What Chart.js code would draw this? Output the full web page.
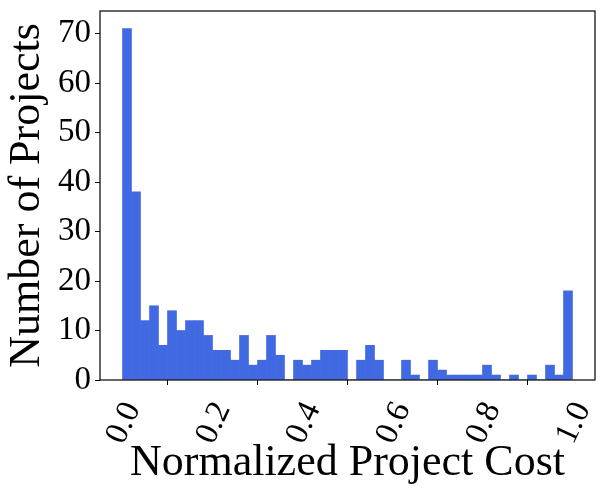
<!DOCTYPE html>
<html lang="en">
<head>
    <meta charset="UTF-8">
    <script src="https://cdn.jsdelivr.net/npm/chart.js"></script>
    <title>Normalized Project Cost</title>
    <style>
        body { margin: 0; background: #fff; }
        #wrap { width: 605px; height: 496px; }
    </style>
</head>
<body>
    <div id="wrap">
        <canvas id="histChart" width="605" height="496"></canvas>
    </div>

    <script>
        // histogram: 50 equal bins between 0 and 1
        const binMin = 0.0;
        const binMax = 1.0;
        const counts = [71, 38, 12, 15, 7, 14, 10, 12, 12, 9,
                        6, 6, 4, 9, 3, 4, 9, 5, 0, 4,
                        3, 4, 6, 6, 6, 0, 4, 7, 4, 0,
                        0, 4, 1, 0, 4, 2, 1, 1, 1, 1,
                        3, 1, 0, 1, 0, 1, 0, 3, 1, 18];
        const xTicks = [0.0, 0.2, 0.4, 0.6, 0.8, 1.0];
        const yTicks = [0, 10, 20, 30, 40, 50, 60, 70];
        const xTitle = 'Normalized Project Cost';
        const yTitle = 'Number of Projects';

        const binWidth = (binMax - binMin) / counts.length;
        const points = counts.map((c, i) => ({ x: binMin + (i + 0.5) * binWidth, y: c }));

        const serif = "'Liberation Serif', 'Times New Roman', serif";

        // plot frame on all four sides
        const framePlugin = {
            id: 'frame',
            afterDraw(chart) {
                const a = chart.chartArea;
                const ctx = chart.ctx;
                ctx.save();
                ctx.strokeStyle = '#000';
                ctx.lineWidth = 1.2;
                ctx.strokeRect(a.left, a.top, a.right - a.left, a.bottom - a.top);
                ctx.restore();
            }
        };

        const ctx = document.getElementById('histChart').getContext('2d');
        new Chart(ctx, {
            type: 'bar',
            data: {
                datasets: [{
                    data: points,
                    backgroundColor: '#4169e1',
                    borderWidth: 0,
                    barPercentage: 1.0,
                    categoryPercentage: 1.0
                }]
            },
            options: {
                responsive: false,
                animation: false,
                devicePixelRatio: 1,
                layout: { padding: { top: 11, right: 10, left: 0, bottom: 0 } },
                plugins: {
                    legend: { display: false },
                    tooltip: { enabled: false }
                },
                scales: {
                    x: {
                        type: 'linear',
                        min: binMin - 0.05 * (binMax - binMin),
                        max: binMax + 0.05 * (binMax - binMin),
                        offset: false,
                        border: { display: false },
                        grid: { drawOnChartArea: false, drawTicks: true, tickLength: 5, color: '#000', tickWidth: 1 },
                        ticks: {
                            autoSkip: false,
                            minRotation: 65,
                            maxRotation: 65,
                            padding: 11,
                            labelOffset: 10,
                            color: '#000',
                            font: { family: serif, size: 33 },
                            callback: v => Number(v).toFixed(1)
                        },
                        afterBuildTicks: s => { s.ticks = xTicks.map(v => ({ value: v })); },
                        afterFit: s => { s.height = 116; s.paddingLeft = 0; s.paddingRight = 0; },
                        title: {
                            display: true,
                            text: xTitle,
                            color: '#000',
                            font: { family: serif, size: 44 },
                            padding: { top: 0, bottom: 6 }
                        }
                    },
                    y: {
                        min: 0,
                        max: 74.55,
                        border: { display: false },
                        grid: { drawOnChartArea: false, drawTicks: true, tickLength: 5, color: '#000', tickWidth: 1 },
                        ticks: {
                            padding: 4,
                            color: '#000',
                            font: { family: serif, size: 33 }
                        },
                        afterBuildTicks: s => { s.ticks = yTicks.map(v => ({ value: v })); },
                        afterFit: s => { s.width = 100; s.paddingTop = 0; s.paddingBottom = 0; },
                        title: {
                            display: true,
                            text: yTitle,
                            color: '#000',
                            font: { family: serif, size: 44 },
                            padding: { top: 1, bottom: 0 }
                        }
                    }
                }
            },
            plugins: [framePlugin]
        });
    </script>
</body>
</html>
